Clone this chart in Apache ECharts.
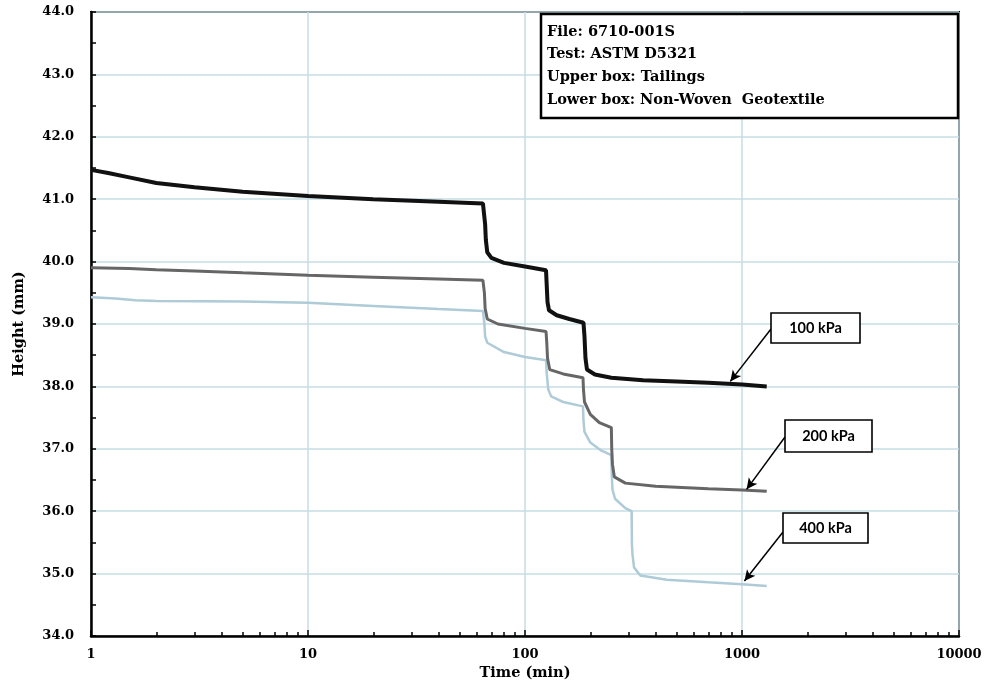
<!DOCTYPE html>
<html><head><meta charset="utf-8">
<script src="https://cdn.jsdelivr.net/npm/echarts@6/dist/echarts.min.js"></script>
<style>html,body{margin:0;padding:0;background:#fff}#c{width:987px;height:690px}</style>
</head><body><div id="c"></div>
<script>
// ---- data (time in min, height in mm) ----
const xTickLabels = ['1', '10', '100', '1000', '10000'];
const xMinorTicks = [2,3,4,5,6,7,8,9,20,30,40,50,60,70,80,90,200,300,400,500,600,700,800,900,2000,3000,4000,5000,6000,7000,8000,9000];
const yTickLabels = ['34.0','35.0','36.0','37.0','38.0','39.0','40.0','41.0','42.0','43.0','44.0'];

const series100 = [
  [1, 41.47], [1.2, 41.42], [1.5, 41.35], [2, 41.26], [3, 41.19], [5, 41.12], [10, 41.05],
  [20, 41.0], [40, 40.96], [64, 40.93], [65, 40.9], [65.5, 40.6], [66, 40.35], [67, 40.15],
  [70, 40.06], [80, 39.98], [100, 39.92], [125, 39.86], [126, 39.6], [127, 39.35], [129, 39.22],
  [140, 39.14], [160, 39.08], [186, 39.02], [188, 38.8], [190, 38.45], [193, 38.27], [210, 38.19],
  [250, 38.14], [350, 38.1], [500, 38.08], [700, 38.06], [1000, 38.03], [1300, 38.0]
];
const series200 = [
  [1, 39.9], [1.5, 39.89], [2, 39.87], [3, 39.85], [5, 39.82], [10, 39.78], [20, 39.75],
  [40, 39.72], [64, 39.7], [65, 39.5], [65.5, 39.25], [67, 39.08], [75, 39.0], [100, 38.93],
  [125, 38.88], [126, 38.7], [127, 38.45], [130, 38.27], [150, 38.2], [185, 38.14], [186, 37.95],
  [188, 37.75], [200, 37.55], [220, 37.42], [250, 37.34], [251, 37.0], [253, 36.75], [258, 36.55],
  [290, 36.45], [400, 36.4], [700, 36.36], [1000, 36.34], [1300, 36.32]
];
const series400 = [
  [1, 39.43], [1.3, 39.41], [1.6, 39.38], [2, 39.37], [5, 39.36], [10, 39.34], [20, 39.29],
  [40, 39.24], [64, 39.21], [65, 39.0], [65.5, 38.8], [67, 38.7], [80, 38.55], [100, 38.47],
  [125, 38.42], [126, 38.2], [128, 37.95], [132, 37.84], [150, 37.75], [185, 37.68], [186, 37.45],
  [188, 37.27], [200, 37.1], [225, 36.97], [250, 36.9], [251, 36.6], [253, 36.35], [260, 36.2],
  [290, 36.05], [310, 36.0], [311, 35.47], [313, 35.3], [318, 35.1], [340, 34.97], [450, 34.9],
  [700, 34.86], [1000, 34.83], [1300, 34.8]
];
const infoLines = ['File: 6710-001S', 'Test: ASTM D5321', 'Upper box: Tailings', 'Lower box: Non-Woven  Geotextile'];
const loadLabels = ['100 kPa', '200 kPa', '400 kPa'];
const arrowTips = [[883, 38.08], [1050, 36.35], [1026, 34.88]];

// ---- chart ----
const serif = 'DejaVu Serif';
const chart = echarts.init(document.getElementById('c'), null, {renderer: 'canvas'});

const boxes = [
  {x: 771, y: 313, w: 89, h: 30, ax: 771, ay: 329},
  {x: 785, y: 420, w: 87, h: 32, ax: 785, ay: 437},
  {x: 783, y: 513, w: 85, h: 30, ax: 783, ay: 532}
];

const graphics = [];
graphics.push({type: 'rect', shape: {x: 541, y: 14, width: 417, height: 104},
  style: {fill: '#fff', stroke: '#000', lineWidth: 2.5}, z: 100});
infoLines.forEach((t, i) => {
  graphics.push({type: 'text', x: 547, y: 32 + i * 22.6, z: 101,
    style: {text: t, fill: '#000', font: 'bold 14.5px "' + serif + '"', textVerticalAlign: 'middle'}});
});
boxes.forEach((b, i) => {
  graphics.push({type: 'rect', shape: {x: b.x, y: b.y, width: b.w, height: b.h},
    style: {fill: '#fff', stroke: '#000', lineWidth: 1.6}, z: 100});
  graphics.push({type: 'text', x: b.x + b.w / 2, y: b.y + b.h / 2, z: 101,
    style: {text: loadLabels[i], fill: '#000', font: 'bold 14.5px Lato', textAlign: 'center', textVerticalAlign: 'middle'}});
});

const arrowData = boxes.map((b, i) => [{x: b.ax, y: b.ay}, {coord: arrowTips[i]}]);

chart.setOption({
  animation: false,
  backgroundColor: '#fff',
  grid: {left: 91, right: 28, top: 12, bottom: 54, show: true, borderColor: '#000', borderWidth: 2, containLabel: false},
  xAxis: [{
    type: 'log', logBase: 10, min: 1, max: 10000, position: 'bottom',
    name: 'Time (min)', nameLocation: 'middle', nameGap: 30,
    nameTextStyle: {fontFamily: serif, fontWeight: 'bold', fontSize: 14.5, color: '#000'},
    axisLine: {show: true, lineStyle: {color: '#000', width: 2.5}},
    axisTick: {show: true, inside: true, length: 6, lineStyle: {color: '#000', width: 1.5}},
    axisLabel: {color: '#000', fontFamily: serif, fontWeight: 'bold', fontSize: 13, margin: 12,
      formatter: function (v) { const k = Math.round(Math.log10(v)); return xTickLabels[k] !== undefined ? xTickLabels[k] : ''; }},
    splitLine: {show: true, lineStyle: {color: '#c6dce5', width: 1.5}},
    minorTick: {show: false}
  }, {
    type: 'log', logBase: 10, min: 1, max: 10000, position: 'bottom', offset: 0,
    axisLine: {show: false},
    axisTick: {show: true, inside: true, length: 4, lineStyle: {color: '#000', width: 1.5}, customValues: xMinorTicks},
    axisLabel: {show: false},
    splitLine: {show: false},
    minorTick: {show: false}
  }],
  yAxis: {
    type: 'value', min: 34, max: 44, interval: 1,
    name: 'Height (mm)', nameLocation: 'middle', nameGap: 64, nameRotate: 90,
    nameTextStyle: {fontFamily: serif, fontWeight: 'bold', fontSize: 14.5, color: '#000'},
    axisLine: {show: true, lineStyle: {color: '#000', width: 2.5}},
    axisTick: {show: true, inside: true, length: 5, lineStyle: {color: '#000', width: 1.5}},
    minorTick: {show: true, splitNumber: 2, length: 5, lineStyle: {color: '#000', width: 1.5}},
    axisLabel: {color: '#000', fontFamily: serif, fontWeight: 'bold', fontSize: 13, margin: 17,
      formatter: function (v) { return yTickLabels[Math.round(v - 34)]; }},
    splitLine: {show: true, lineStyle: {color: '#c6dce5', width: 1.5}}
  },
  series: [
    {name: '400 kPa', type: 'line', data: series400, showSymbol: false, z: 2, xAxisIndex: 0,
      lineStyle: {color: '#aecbd7', width: 2.5}},
    {name: '200 kPa', type: 'line', data: series200, showSymbol: false, z: 3, xAxisIndex: 0,
      lineStyle: {color: '#666666', width: 3}},
    {name: '100 kPa', type: 'line', data: series100, showSymbol: false, z: 4, xAxisIndex: 0,
      lineStyle: {color: '#111111', width: 4},
      markLine: {silent: true, symbol: ['none', 'arrow'], symbolSize: [8, 11], animation: false,
        label: {show: false}, lineStyle: {color: '#000', width: 1.5, type: 'solid'},
        data: arrowData}}
  ],
  graphic: graphics
});
</script></body></html>
